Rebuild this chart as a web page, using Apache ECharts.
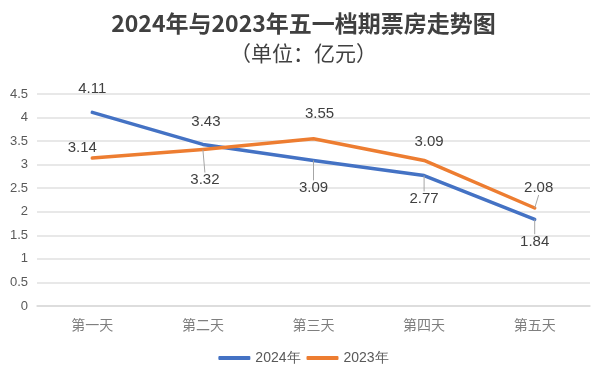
<!DOCTYPE html>
<html><head><meta charset="utf-8">
<script src="https://cdn.jsdelivr.net/npm/echarts@6/dist/echarts.min.js"></script>
<style>html,body{margin:0;padding:0;background:#fff}#c{width:607px;height:383px}</style>
</head><body><div id="c"></div>
<script>
var categories = ['第一天','第二天','第三天','第四天','第五天'];
var values2024 = [4.11, 3.43, 3.09, 2.77, 1.84];
var values2023 = [3.14, 3.32, 3.55, 3.09, 2.08];
var yTicks = [0, 0.5, 1, 1.5, 2, 2.5, 3, 3.5, 4, 4.5];

// label offsets (style only)
var off2024 = [[0,-12],[3,-11],[0,39],[0,35],[0,34]];
var off2023 = [[-10,1],[2,42],[6,-13],[5,-7],[4,-9]];
var lead2024 = [false,false,true,true,true];
var lead2023 = [false,true,false,false,true];

function mk(vals, lead){
  return vals.map(function(v,i){
    return {value:v, labelLine:{show:lead[i]}};
  });
}
var chart = echarts.init(document.getElementById('c'));
chart.setOption({
  animation:false,
  title:[
    {text:'2024年与2023年五一档期票房走势图', left:'center', top:7,
     textStyle:{fontFamily:'Noto Sans CJK SC', fontSize:23, fontWeight:'bold', color:'#404040'}},
    {text:'（单位：亿元）', left:'center', top:38,
     textStyle:{fontFamily:'Noto Sans CJK SC', fontSize:21, fontWeight:'normal', color:'#404040'}}
  ],
  legend:{bottom:13, left:'center', itemWidth:32, itemHeight:4, itemGap:6,
    icon:'roundRect',
    textStyle:{fontFamily:'Liberation Sans', fontSize:14, color:'#595959'},
    data:['2024年','2023年']},
  grid:{left:37, right:17, top:94, bottom:77},
  xAxis:{type:'category', data:categories, boundaryGap:true,
    axisLine:{lineStyle:{color:'#d9d9d9', width:1.5}}, axisTick:{show:false},
    axisLabel:{fontFamily:'Noto Sans CJK SC', fontSize:14, color:'#7f7f7f', margin:12}},
  yAxis:{type:'value', min:yTicks[0], max:yTicks[yTicks.length-1], interval:0.5,
    axisLine:{show:false}, axisTick:{show:false},
    splitLine:{lineStyle:{color:'#e0e0e0', width:1.5}},
    axisLabel:{fontFamily:'Liberation Sans', fontSize:13, color:'#595959', margin:9}},
  series:[
    {name:'2024年', type:'line', data:mk(values2024, lead2024), symbol:'circle', symbolSize:0.1, showSymbol:true,
     lineStyle:{color:'#4472C4', width:3.5, cap:'round', join:'round'}, itemStyle:{color:'#4472C4'},
     label:{show:true, position:'top', distance:4, fontFamily:'Liberation Sans', fontSize:15, color:'#404040'},
     labelLine:{lineStyle:{color:'#a6a6a6', width:1}},
     labelLayout:function(p){return {dx:off2024[p.dataIndex][0], dy:off2024[p.dataIndex][1]};}},
    {name:'2023年', type:'line', data:mk(values2023, lead2023), symbol:'circle', symbolSize:0.1, showSymbol:true,
     lineStyle:{color:'#ED7D31', width:3.5, cap:'round', join:'round'}, itemStyle:{color:'#ED7D31'},
     label:{show:true, position:'top', distance:4, fontFamily:'Liberation Sans', fontSize:15, color:'#404040'},
     labelLine:{lineStyle:{color:'#a6a6a6', width:1}},
     labelLayout:function(p){return {dx:off2023[p.dataIndex][0], dy:off2023[p.dataIndex][1]};}}
  ]
});
</script></body></html>
